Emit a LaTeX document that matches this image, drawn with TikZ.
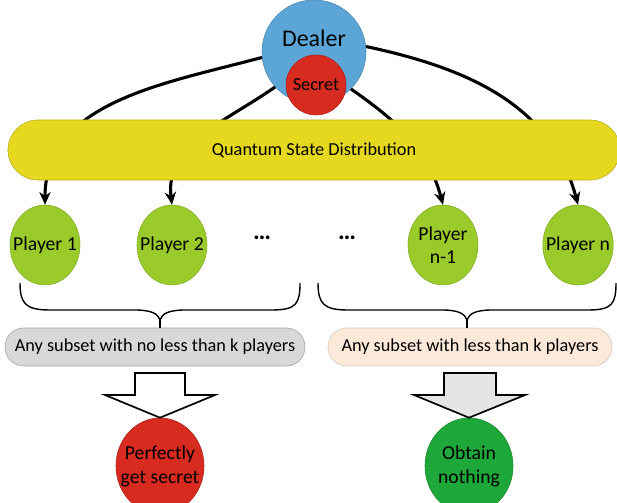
\documentclass[tikz,border=0pt]{standalone}
\usepackage{fontspec}
\setmainfont{Carlito}
\usetikzlibrary{shapes.geometric,arrows.meta}
\definecolor{dealerblue}{RGB}{91,166,214}
\definecolor{secretred}{RGB}{215,43,31}
\definecolor{baryellow}{RGB}{230,216,30}
\definecolor{playergreen}{RGB}{154,203,42}
\definecolor{boxgrey}{RGB}{216,216,216}
\definecolor{boxpeach}{RGB}{252,233,217}
\definecolor{okgreen}{RGB}{30,168,58}

\begin{document}
\begin{tikzpicture}[x=0.025cm,y=-0.025cm,
	font=\fontsize{13}{15}\selectfont,
	player/.style={ellipse,draw=playergreen!85!black,fill=playergreen,minimum width=1.75cm,minimum height=2cm,inner xsep=-5pt,inner ysep=0pt,align=center,font=\fontsize{14}{16}\selectfont},
	subset/.style={rounded corners=0.47cm,minimum height=0.95cm,inner sep=0pt},
	result/.style={ellipse,minimum width=2.2cm,minimum height=2.4cm,inner xsep=-6pt,inner ysep=0pt,align=center,font=\fontsize{14}{17}\selectfont},
	share/.style={line width=2.2pt,-{Stealth[length=9pt,width=8pt]}}]
	\useasboundingbox (0,0) rectangle (617,503);
	% dealer and secret
	\node[circle,fill=dealerblue,draw=dealerblue!80!black,minimum size=2.6cm,inner sep=0pt] (dealer) at (314,52) {};
	\node[font=\fontsize{17}{19}\selectfont] (dealertext) at (314,38) {Dealer};
	\node[circle,fill=secretred,draw=secretred!80!black,minimum size=1.5cm,inner sep=0pt] (secret) at (316,85) {Secret};
	% players
	\node[player] (p1) at (45,245) {Player 1};
	\node[player] (p2) at (172,245) {Player 2};
	\node[player] (pn1) at (443,245) {Player\\n-1};
	\node[player] (pn) at (578,245) {Player n};
	\node[font=\fontsize{18}{20}\selectfont] (dots1) at (262,238) {\textbf{\dots}};
	\node[font=\fontsize{18}{20}\selectfont] (dots2) at (347,238) {\textbf{\dots}};
	% sharing arrows
	\draw[share] (dealer.186) to[out=195,in=90] (p1.north);
	\draw[share] (dealer.222) to[out=215,in=97] (p2.north);
	\draw[share] (dealer.315) to[out=-35,in=105] (pn1.north);
	\draw[share] (dealer.6) to[out=-12,in=105] (pn.north);
	\node[rounded corners=0.75cm,fill=baryellow,draw=baryellow!80!black,minimum width=15.3cm,minimum height=1.5cm] (bar) at (314,150) {Quantum State Distribution};
	% subsets
	\node[subset,fill=boxgrey,draw=boxgrey!75!black,minimum width=7.5cm] (major) at (155,347) {Any subset with no less than k players};
	\node[subset,fill=boxpeach,draw=boxpeach!85!black,minimum width=7.1cm] (minor) at (470,347) {Any subset with less than k players};
	\coordinate (tipL) at (160,320);
	\coordinate (tipR) at (467,320);
	\draw[line width=1pt] (20,283) .. controls (20,304) and (26,310) .. (50,310) -- (135,310)
		.. controls (152,310) and (158,314) .. (tipL) .. controls (162,314) and (168,310) .. (185,310)
		-- (272,310) .. controls (296,310) and (300,304) .. (300,283);
	\draw[line width=1pt] (318,283) .. controls (318,304) and (324,310) .. (348,310) -- (442,310)
		.. controls (459,310) and (465,314) .. (tipR) .. controls (469,314) and (475,310) .. (492,310)
		-- (588,310) .. controls (612,310) and (616,304) .. (616,283);
	\draw[line width=1pt] (tipL) -- (major.north -| tipL);
	\draw[line width=1pt] (tipR) -- (minor.north -| tipR);
	% results
	\node[result,fill=secretred,draw=secretred!80!black] (secretok) at (160,466) {Perfectly\\get secret};
	\node[result,fill=okgreen,draw=okgreen!80!black] (nothing) at (469,466) {Obtain\\nothing};
	\draw[line width=1.2pt,fill=white] (135,373) -- (185,373) -- (185,395) -- (215,395) -- (secretok.north) -- (105,395) -- (135,395) -- cycle;
	\draw[line width=1.2pt,fill=black!10] (444,373) -- (496,373) -- (496,395) -- (525,395) -- (nothing.north) -- (414,395) -- (444,395) -- cycle;
\end{tikzpicture}
\end{document}
